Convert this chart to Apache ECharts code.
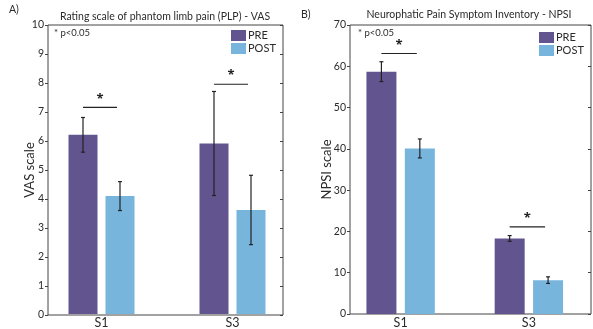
<!DOCTYPE html>
<html><head><meta charset="utf-8">
<script src="https://cdn.jsdelivr.net/npm/echarts@6/dist/echarts.min.js"></script>
<style>html,body{margin:0;padding:0;background:#fff}#c{width:593px;height:329px}</style>
</head><body><div id="c"></div>
<script>
// ---- data ----
const categories = ['S1', 'S3'];
const groupNames = ['PRE', 'POST'];
const vasTicks = [0, 10, 1];      // min, max, interval
const npsiTicks = [0, 70, 10];
const vasPre = [6.2, 5.9];
const vasPreErr = [0.6, 1.8];
const vasPost = [4.08, 3.6];
const vasPostErr = [0.5, 1.2];
const vasSig = [7.15, 7.95];
const npsiPre = [58.7, 18.3];
const npsiPreErr = [2.4, 0.7];
const npsiPost = [40.1, 8.2];
const npsiPostErr = [2.3, 0.8];
const npsiSig = [63.1, 21.1];
const panelTitles = ['Rating scale of phantom limb pain (PLP) - VAS', 'Neurophatic Pain Symptom Inventory - NPSI'];
const panelLetters = ['A)', 'B)'];
const yNames = ['VAS scale', 'NPSI scale'];
const sigNote = '* p<0.05';

// ---- style ----
const PRE_C = '#62558F', POST_C = '#77B5DD';
const FONT = 'Lato, "Open Sans", sans-serif';
const TXT = '#2b2b2b';

function errData(pre, preErr, post, postErr) {
  const d = [];
  categories.forEach((c, i) => {
    d.push([i, pre[i], preErr[i], 0]);
    d.push([i, post[i], postErr[i], 1]);
  });
  return d;
}
function errSeries(xi, yi, data, off) {
  return {
    type: 'custom', xAxisIndex: xi, yAxisIndex: yi, data: data, z: 10, silent: true,
    renderItem: function (params, api) {
      const cat = api.value(0), v = api.value(1), e = api.value(2), side = api.value(3);
      const hi = api.coord([cat, v + e]), lo = api.coord([cat, v - e]);
      const x = hi[0] + (side === 0 ? -off : off);
      const st = { stroke: '#222', lineWidth: 1.2 };
      return { type: 'group', children: [
        { type: 'line', shape: { x1: x, y1: hi[1], x2: x, y2: lo[1] }, style: st },
        { type: 'line', shape: { x1: x - 2, y1: hi[1], x2: x + 2, y2: hi[1] }, style: st },
        { type: 'line', shape: { x1: x - 2, y1: lo[1], x2: x + 2, y2: lo[1] }, style: st }
      ]};
    }
  };
}
function sigSeries(xi, yi, ys, off) {
  return {
    type: 'custom', xAxisIndex: xi, yAxisIndex: yi, data: ys.map((y, i) => [i, y]), z: 10, silent: true,
    renderItem: function (params, api) {
      const p = api.coord([api.value(0), api.value(1)]);
      const x1 = p[0] - off, x2 = p[0] + off - 3;
      return { type: 'group', children: [
        { type: 'line', shape: { x1: x1, y1: p[1], x2: x2, y2: p[1] }, style: { stroke: '#222', lineWidth: 1.2 } },
        { type: 'text', style: { text: '*', x: (x1 + x2) / 2, y: p[1] - 2, align: 'center', verticalAlign: 'bottom', fontSize: 13, fontWeight: 'bold', fill: '#222', fontFamily: '"Open Sans", sans-serif' } }
      ]};
    }
  };
}
function frameY(gi, t, name, gap, right) {
  return {
    gridIndex: gi, type: 'value', min: t[0], max: t[1], interval: t[2], position: right ? 'right' : 'left',
    axisLine: { show: false }, splitLine: { show: false },
    axisTick: { show: true, inside: !!right, length: 3, lineStyle: { color: '#444' } },
    axisLabel: { show: !right, fontSize: 10.5, color: TXT, margin: 4, fontFamily: FONT },
    name: right ? '' : name, nameLocation: 'middle', nameGap: gap, nameMoveOverlap: false,
    nameTextStyle: { fontSize: 13, color: TXT, fontFamily: FONT }
  };
}
function hiddenY(gi, t) { return { gridIndex: gi, type: 'value', min: t[0], max: t[1], show: false, splitLine: { show: false } }; }
function catX(gi) {
  return { gridIndex: gi, type: 'category', data: categories, axisLine: { show: false }, axisTick: { show: false },
    axisLabel: { fontSize: 12.5, color: TXT, margin: 2, fontFamily: FONT } };
}
function bar(name, xi, yi, data, color, w, gap) {
  return { type: 'bar', name: name, xAxisIndex: xi, yAxisIndex: yi, data: data, barWidth: w, barGap: gap,
    itemStyle: { color: color }, emphasis: { disabled: true } };
}
const titleStyle = { fontSize: 10.5, fontWeight: 'normal', color: TXT, fontFamily: FONT };

const chart = echarts.init(document.getElementById('c'), null, { renderer: 'canvas' });
chart.setOption({
  animation: false,
  textStyle: { fontFamily: FONT },
  title: [
    { text: panelTitles[0], left: 165, top: 11, textAlign: 'center', padding: 0, textStyle: titleStyle },
    { text: panelTitles[1], left: 469, top: 9, textAlign: 'center', padding: 0, textStyle: titleStyle },
    { text: panelLetters[0], left: 9, top: 4, padding: 0, textStyle: titleStyle },
    { text: panelLetters[1], left: 301, top: 9, padding: 0, textStyle: titleStyle }
  ],
  graphic: [
    { type: 'text', left: 54, top: 28, style: { text: sigNote, fontSize: 9.5, fill: TXT, fontFamily: FONT } },
    { type: 'text', left: 358, top: 28, style: { text: sigNote, fontSize: 9.5, fill: TXT, fontFamily: FONT } }
  ],
  legend: [
    { data: groupNames, orient: 'vertical', left: 231, top: 30, itemWidth: 15, itemHeight: 11, itemGap: 2, padding: 0,
      icon: 'rect', selectedMode: false, textStyle: { fontSize: 11, color: TXT, padding: [0, 0, 0, -3], fontFamily: FONT } },
    { data: groupNames, orient: 'vertical', left: 539, top: 32, itemWidth: 15, itemHeight: 11, itemGap: 2, padding: 0,
      icon: 'rect', selectedMode: false, textStyle: { fontSize: 11, color: TXT, padding: [0, 0, 0, -3], fontFamily: FONT } }
  ],
  grid: [
    { left: 48, top: 25, width: 235, height: 290, show: true, borderColor: '#444', borderWidth: 1, backgroundColor: 'transparent' },
    { left: 36, top: 25, width: 262, height: 290 },
    { left: 350, top: 25, width: 241, height: 289, show: true, borderColor: '#444', borderWidth: 1, backgroundColor: 'transparent' },
    { left: 336.5, top: 25, width: 268, height: 289 }
  ],
  xAxis: [
    { gridIndex: 0, type: 'value', show: false, min: 0, max: 1 },
    catX(1),
    { gridIndex: 2, type: 'value', show: false, min: 0, max: 1 },
    catX(3)
  ],
  yAxis: [
    frameY(0, vasTicks, yNames[0], 11.5, false),
    frameY(0, vasTicks, '', 0, true),
    hiddenY(1, vasTicks),
    frameY(2, npsiTicks, yNames[1], 17, false),
    frameY(2, npsiTicks, '', 0, true),
    hiddenY(3, npsiTicks)
  ],
  series: [
    bar(groupNames[0], 1, 2, vasPre, PRE_C, 29, '27.6%'),
    bar(groupNames[1], 1, 2, vasPost, POST_C, 29, '27.6%'),
    errSeries(1, 2, errData(vasPre, vasPreErr, vasPost, vasPostErr), 18.5),
    sigSeries(1, 2, vasSig, 18.5),
    bar(groupNames[0], 3, 5, npsiPre, PRE_C, 30, '28%'),
    bar(groupNames[1], 3, 5, npsiPost, POST_C, 30, '28%'),
    errSeries(3, 5, errData(npsiPre, npsiPreErr, npsiPost, npsiPostErr), 19.2),
    sigSeries(3, 5, npsiSig, 19.2)
  ]
});
</script>
</body></html>
